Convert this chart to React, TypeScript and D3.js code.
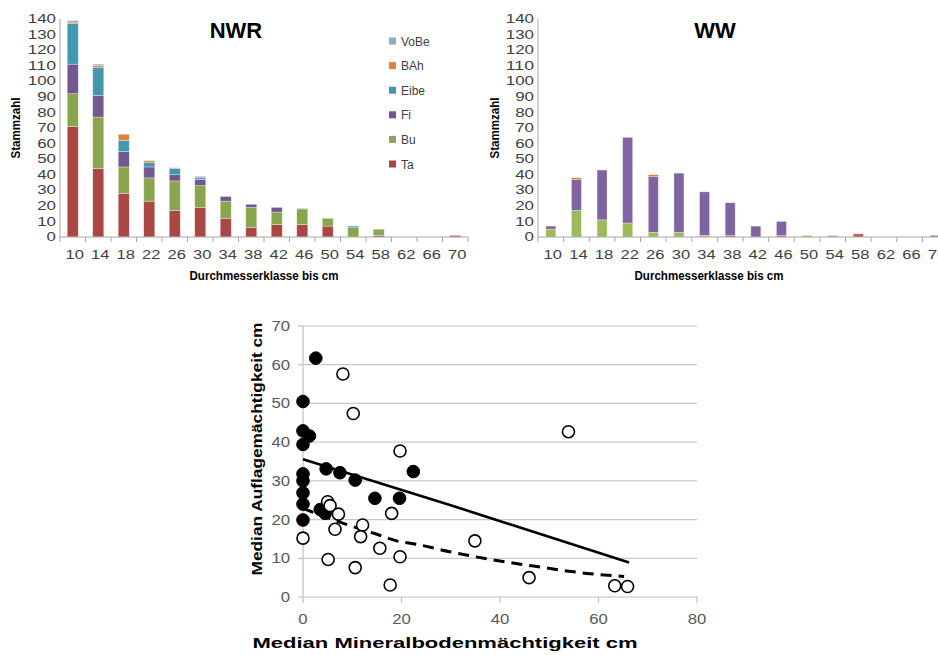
import React from "react";
import * as d3 from "d3";

const classes = ["10","14","18","22","26","30","34","38","42","46","50","54","58","62","66","70"];
const species = ["Ta","Bu","Fi","Eibe","BAh","VoBe"];
const legendOrder = ["VoBe","BAh","Eibe","Fi","Bu","Ta"];

const nwrTa   = [71,44,28,23,17,19,12,6,8,8,7,0,1,0,0,1];
const nwrBu   = [21,33,17,15,19,14,11,13,8,10,5,6,4,0,0,0];
const nwrFi   = [19,14,10,7,4,4,3,2,3,0,0,0,0,0,0,0];
const nwrEibe = [26,18,7,3,4,1,0,0,0,0,0,1,0,0,0,0];
const nwrBAh  = [1,1,4,1,0,0,0,0,0,0,0,0,0,0,0,0];
const nwrVoBe = [1,1,0,0,0.5,1,0,0,0,0.5,0,0,0,0,0,0];

const wwTa   = [0,0,0,0,0,0,0,1,0,1,0,0,2,0,0,0];
const wwBu   = [5,17,11,9,3,3,1,0,0,0,1,1,0,0,0,0];
const wwFi   = [2,20,32,55,36,38,28,21,7,9,0,0,0,0,0,1];
const wwEibe = [0,0,0,0,0,0,0,0,0,0,0,0,0,0,0,0];
const wwBAh  = [0,1,0,0,1,0,0,0,0,0,0,0,0,0,0,0];
const wwVoBe = [0,0,0,0,0,0,0,0,0,0,0,0,0,0,0,0];

const yTicksBar = [0,10,20,30,40,50,60,70,80,90,100,110,120,130,140];

const nwrColors: Record<string,string> = { Ta:"#AA4643", Bu:"#89A54E", Fi:"#71588F", Eibe:"#4198AF", BAh:"#DB843D", VoBe:"#93A9CF" };
const wwColors: Record<string,string> = { Ta:"#C0504D", Bu:"#9BBB59", Fi:"#8064A2", Eibe:"#4BACC6", BAh:"#E8701E", VoBe:"#95B3D7" };

// scatter
const filledX = [2.6,0,0,1.3,0,0,0,0,0,0,4.7,7.5,10.6,14.6,19.6,22.4,3.5,4.5];
const filledY = [61.7,50.5,42.9,41.6,39.4,31.8,30.0,26.9,24.0,19.9,33.1,32.1,30.2,25.5,25.5,32.4,22.6,21.6];
const openX = [0,8.1,10.2,19.7,5.0,5.5,7.2,6.5,12.1,11.7,18.0,15.6,19.7,5.1,10.6,17.7,34.9,53.9,45.9,63.3,65.9];
const openY = [15.2,57.6,47.4,37.7,24.6,23.6,21.4,17.5,18.6,15.6,21.6,12.6,10.4,9.7,7.6,3.1,14.5,42.7,5.0,2.9,2.7];
const solidX = [0,30,66.2];
const solidY = [35.6,23.7,8.9];
const dashX = [0,8.2,15,19,23.1,29.8,38,46.8,57.6,65.2];
const dashY = [22.9,19.0,16.2,14.5,13.6,11.7,9.7,8.0,6.1,5.3];
const sxTicks = [0,20,40,60,80];
const syTicks = [0,10,20,30,40,50,60,70];

const FONT = "'Liberation Sans', Arial, sans-serif";

function seriesFor(prefix: "nwr"|"ww") {
  const m: Record<string, number[]> = prefix === "nwr"
    ? { Ta: nwrTa, Bu: nwrBu, Fi: nwrFi, Eibe: nwrEibe, BAh: nwrBAh, VoBe: nwrVoBe }
    : { Ta: wwTa, Bu: wwBu, Fi: wwFi, Eibe: wwEibe, BAh: wwBAh, VoBe: wwVoBe };
  return classes.map((c, i) => {
    const row: any = { cls: c };
    species.forEach(s => (row[s] = m[s][i]));
    return row;
  });
}

function BarChart(props: { kind: "nwr"|"ww"; x0: number; x1: number; title: string; titleX: number; xTitleX: number; yTitleX: number; barW: number; colors: Record<string,string>; legend?: boolean }) {
  const { kind, x0, x1, title, titleX, xTitleX, yTitleX, barW, colors } = props;
  const data = seriesFor(kind);
  const x = d3.scaleBand<string>().domain(classes).range([x0, x1]).padding(0);
  const y = d3.scaleLinear().domain([0, 140]).range([237, 19]);
  const stacked = d3.stack<any>().keys(species)(data);
  const axisCol = "#A6A6A6";
  return (
    <g>
      {stacked.map(layer => (
        <g key={layer.key} fill={colors[layer.key]}>
          {layer.map((d, i) => {
            const h = y(d[0]) - y(d[1]);
            if (h <= 0) return null;
            const cx = (x(classes[i]) as number) + x.bandwidth() / 2;
            return <rect key={i} x={cx - barW / 2} y={y(d[1])} width={barW} height={h} stroke="rgba(255,255,255,0.45)" strokeWidth={0.7} />;
          })}
        </g>
      ))}
      <line x1={x0} x2={x0} y1={19} y2={237} stroke={axisCol} />
      <line x1={x0} x2={x1} y1={237} y2={237} stroke={axisCol} />
      {classes.map((c, i) => (
        <line key={"t" + i} x1={(x(c) as number) + x.bandwidth()} x2={(x(c) as number) + x.bandwidth()} y1={237} y2={242} stroke={axisCol} />
      ))}
      <line x1={x0} x2={x0} y1={237} y2={242} stroke={axisCol} />
      {yTicksBar.map(t => (
        <text key={"y" + t} x={x0 - 4} y={y(t) + 4.2} textAnchor="end" fontSize={12} fill="#404040" fontFamily={FONT} textLength={String(t).length * 9.4} lengthAdjust="spacingAndGlyphs">{t}</text>
      ))}
      {classes.map(c => (
        <text key={"x" + c} x={(x(c) as number) + x.bandwidth() / 2 + 2} y={259} textAnchor="middle" fontSize={12} fill="#404040" fontFamily={FONT} textLength={c.length * 9.2} lengthAdjust="spacingAndGlyphs">{c}</text>
      ))}
      <text x={xTitleX} y={280} textAnchor="middle" fontSize={12} fontWeight="bold" fill="#000" fontFamily={FONT} textLength={149} lengthAdjust="spacingAndGlyphs">Durchmesserklasse bis cm</text>
      <text transform={`translate(${yTitleX},128) rotate(-90)`} textAnchor="middle" fontSize={12} fontWeight="bold" fill="#000" fontFamily={FONT} textLength={61} lengthAdjust="spacingAndGlyphs">Stammzahl</text>
      <text x={titleX} y={38} textAnchor="middle" fontSize={22} fontWeight="bold" fill="#000" fontFamily={FONT}>{title}</text>
      {props.legend && legendOrder.map((s, i) => (
        <g key={s}>
          <rect x={389} y={37.5 + i * 24.6} width={7} height={7} fill={colors[s]} />
          <text x={401} y={45.5 + i * 24.6} fontSize={12} fill="#404040" fontFamily={FONT}>{s}</text>
        </g>
      ))}
    </g>
  );
}

function Scatter() {
  const x = d3.scaleLinear().domain([0, 80]).range([303, 697]);
  const y = d3.scaleLinear().domain([0, 70]).range([597, 326]);
  const line = d3.line<number>().x((_, i) => x(solidX[i])).y(v => y(v));
  const dline = d3.line<number>().x((_, i) => x(dashX[i])).y(v => y(v)).curve(d3.curveMonotoneX);
  return (
    <g>
      {syTicks.filter(t => t > 0).map(t => (
        <line key={"g" + t} x1={303} x2={697} y1={y(t)} y2={y(t)} stroke="#C8C8C8" strokeWidth={1.2} />
      ))}
      <line x1={303} x2={303} y1={y(70)} y2={597} stroke="#BFBFBF" strokeWidth={1.2} />
      <line x1={303} x2={697} y1={597} y2={597} stroke="#BFBFBF" strokeWidth={1.2} />
      {syTicks.map(t => (
        <line key={"yt" + t} x1={298} x2={303} y1={y(t)} y2={y(t)} stroke="#BFBFBF" strokeWidth={1.2} />
      ))}
      {sxTicks.map(t => (
        <line key={"xt" + t} x1={x(t)} x2={x(t)} y1={597} y2={603} stroke="#BFBFBF" strokeWidth={1.2} />
      ))}
      {syTicks.map(t => (
        <text key={"yl" + t} x={290} y={y(t) + 5} textAnchor="end" fontSize={14} fill="#595959" fontFamily={FONT} textLength={String(t).length * 9.3} lengthAdjust="spacingAndGlyphs">{t}</text>
      ))}
      {sxTicks.map(t => (
        <text key={"xl" + t} x={x(t)} y={624} textAnchor="middle" fontSize={14} fill="#595959" fontFamily={FONT} textLength={String(t).length * 9.3} lengthAdjust="spacingAndGlyphs">{t}</text>
      ))}
      <path d={line(solidY) || ""} fill="none" stroke="#000" strokeWidth={2.6} />
      <path d={dline(dashY) || ""} fill="none" stroke="#000" strokeWidth={3} strokeDasharray="11,7" />
      {filledX.map((v, i) => (
        <circle key={"f" + i} cx={x(v)} cy={y(filledY[i])} r={6.3} fill="#000" stroke="#000" strokeWidth={1} />
      ))}
      {openX.map((v, i) => (
        <circle key={"o" + i} cx={x(v)} cy={y(openY[i])} r={6} fill="#fff" stroke="#000" strokeWidth={1.6} />
      ))}
      <text transform="translate(262,449) rotate(-90)" textAnchor="middle" fontSize={14.5} fontWeight="bold" fill="#000" fontFamily={FONT} textLength={253} lengthAdjust="spacingAndGlyphs">Median Auflagemächtigkeit cm</text>
      <text x={445} y={648} textAnchor="middle" fontSize={14.5} fontWeight="bold" fill="#000" fontFamily={FONT} textLength={385} lengthAdjust="spacingAndGlyphs">Median Mineralbodenmächtigkeit cm</text>
    </g>
  );
}

export default function App() {
  return (
    <svg width={938} height={655} style={{ position: "absolute", left: 0, top: 0, background: "#fff" }}>
      <rect width={938} height={655} fill="#fff" />
      <BarChart kind="nwr" x0={60} x1={468} title="NWR" titleX={236} xTitleX={264} yTitleX={20} barW={11} colors={nwrColors} legend />
      <BarChart kind="ww" x0={538} x1={948} title="WW" titleX={715} xTitleX={709} yTitleX={499} barW={10} colors={wwColors} />
      <Scatter />
    </svg>
  );
}
